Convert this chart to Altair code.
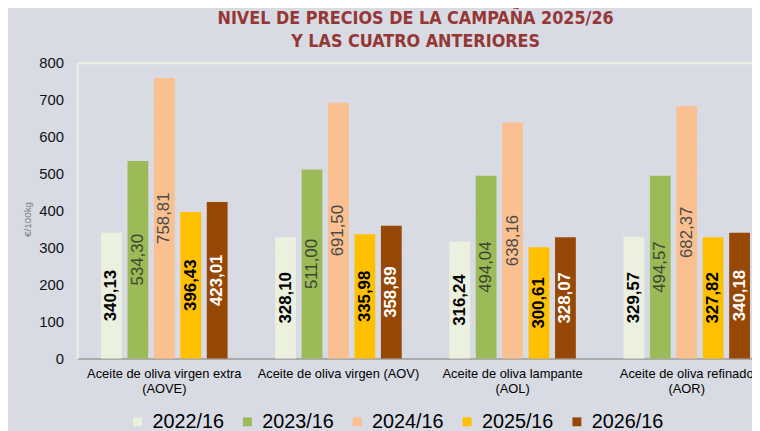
import altair as alt
import pandas as pd

categories = [
    "Aceite de oliva virgen extra\n(AOVE)",
    "Aceite de oliva virgen (AOV)",
    "Aceite de oliva lampante\n(AOL)",
    "Aceite de oliva refinado\n(AOR)",
]
series = ["2022/16", "2023/16", "2024/16", "2025/16", "2026/16"]
values = {
    "2022/16": [340.13, 328.10, 316.24, 329.57],
    "2023/16": [534.30, 511.00, 494.04, 494.57],
    "2024/16": [758.81, 691.50, 638.16, 682.37],
    "2025/16": [396.43, 335.98, 300.61, 327.82],
    "2026/16": [423.01, 358.89, 328.07, 340.18],
}
colors = ["#EBF1DE", "#9BBB59", "#FAC090", "#FFC000", "#974806"]
label_colors = ["#000000", "#3C4530", "#4A4A4A", "#000000", "#FFFFFF"]
bold_series = ["2022/16", "2025/16", "2026/16"]
y_ticks = [0, 100, 200, 300, 400, 500, 600, 700, 800]
title_lines = ["NIVEL DE PRECIOS DE LA CAMPAÑA 2025/26", "Y LAS CUATRO ANTERIORES"]

rows = []
for s in series:
    for c, v in zip(categories, values[s]):
        rows.append({"cat": c, "serie": s, "v": v})
df = pd.DataFrame(rows)

x_enc = alt.X(
    "cat:N",
    sort=categories,
    scale=alt.Scale(range=[0, 704], paddingInner=0, paddingOuter=0),
    axis=alt.Axis(
        title=None,
        labelAngle=0,
        labelExpr="split(datum.label, '\\n')",
        labelFontSize=13,
        labelLineHeight=15,
        labelColor="#000000",
        labelPadding=9,
        ticks=False,
        domainColor="#9A9A9A",
        domainWidth=1.5,
        grid=False,
    ),
)
xoff_enc = alt.XOffset(
    "serie:N",
    sort=series,
    scale=alt.Scale(paddingInner=0.213, paddingOuter=0.9),
)

y_scale = alt.Scale(domain=[0, 800], nice=False)
y_axis = alt.Axis(
    values=y_ticks,
    tickCount=9,
    labelOverlap=False,
    title="€/100kg",
    titleFontSize=10,
    titleFontWeight="normal",
    titleColor="#7A7A7A",
    titleAngle=270,
    titleX=-50,
    titleY=158,
    titleAlign="center",
    titleBaseline="middle",
    labelFontSize=15,
    labelColor="#111111",
    labelPadding=14,
    ticks=False,
    domainColor="#EEF0E0",
    domainWidth=2,
    gridColor=alt.condition("datum.value == 800", alt.value("#EEF0E0"), alt.value("#E2DEDE")),
    gridWidth=alt.condition("datum.value == 800", alt.value(2), alt.value(1)),
)

base = alt.Chart(df)

bars = base.mark_bar().encode(
    x=x_enc,
    xOffset=xoff_enc,
    y=alt.Y("v:Q", scale=y_scale, axis=y_axis),
    color=alt.Color(
        "serie:N",
        sort=series,
        scale=alt.Scale(domain=series, range=colors),
        legend=alt.Legend(
            title=None,
            orient="none",
            direction="horizontal",
            columns=5,
            legendX=51,
            legendY=353,
            padding=0,
            symbolType="square",
            symbolSize=81,
            symbolStrokeWidth=0,
            labelFontSize=20,
            labelColor="#000000",
            labelOffset=5,
            columnPadding=13,
        ),
    ),
)

def text_layer(bold):
    sel = [s for s in series if (s in bold_series) == bold]
    return (
        base.transform_filter(alt.FieldOneOfPredicate(field="serie", oneOf=sel))
        .transform_calculate(
            mid="datum.v / 2",
            lab="replace(format(datum.v, '.2f'), '.', ',')",
        )
        .mark_text(
            angle=270,
            align="center",
            baseline="middle",
            fontSize=17,
            fontWeight="bold" if bold else "normal",
        )
        .encode(
            x=x_enc,
            xOffset=xoff_enc,
            y=alt.Y("mid:Q", scale=y_scale, axis=y_axis),
            text="lab:N",
            color=alt.Color(
                "serie:N",
                scale=alt.Scale(domain=series, range=label_colors),
                legend=None,
            ),
        )
    )

chart = (
    alt.layer(bars, text_layer(True), text_layer(False))
    .resolve_scale(color="independent")
    .properties(
        width=682,
        height=299,
        autosize=alt.AutoSizeParams(type="none"),
        padding={"left": 70, "top": 53, "right": 0, "bottom": 71},
        background="#D8DBE3",
        title=alt.TitleParams(
            text=title_lines,
            font="'DejaVu Sans Condensed', 'Liberation Sans', sans-serif",
            fontSize=18,
            fontWeight="bold",
            color="#953735",
            anchor="middle",
            dx=1,
            offset=5,
            lineHeight=23,
        ),
    )
    .configure(font="Liberation Sans")
    .configure_view(stroke=None)
)

chart.save("out.html", embed_options={"renderer": "svg", "actions": False})
